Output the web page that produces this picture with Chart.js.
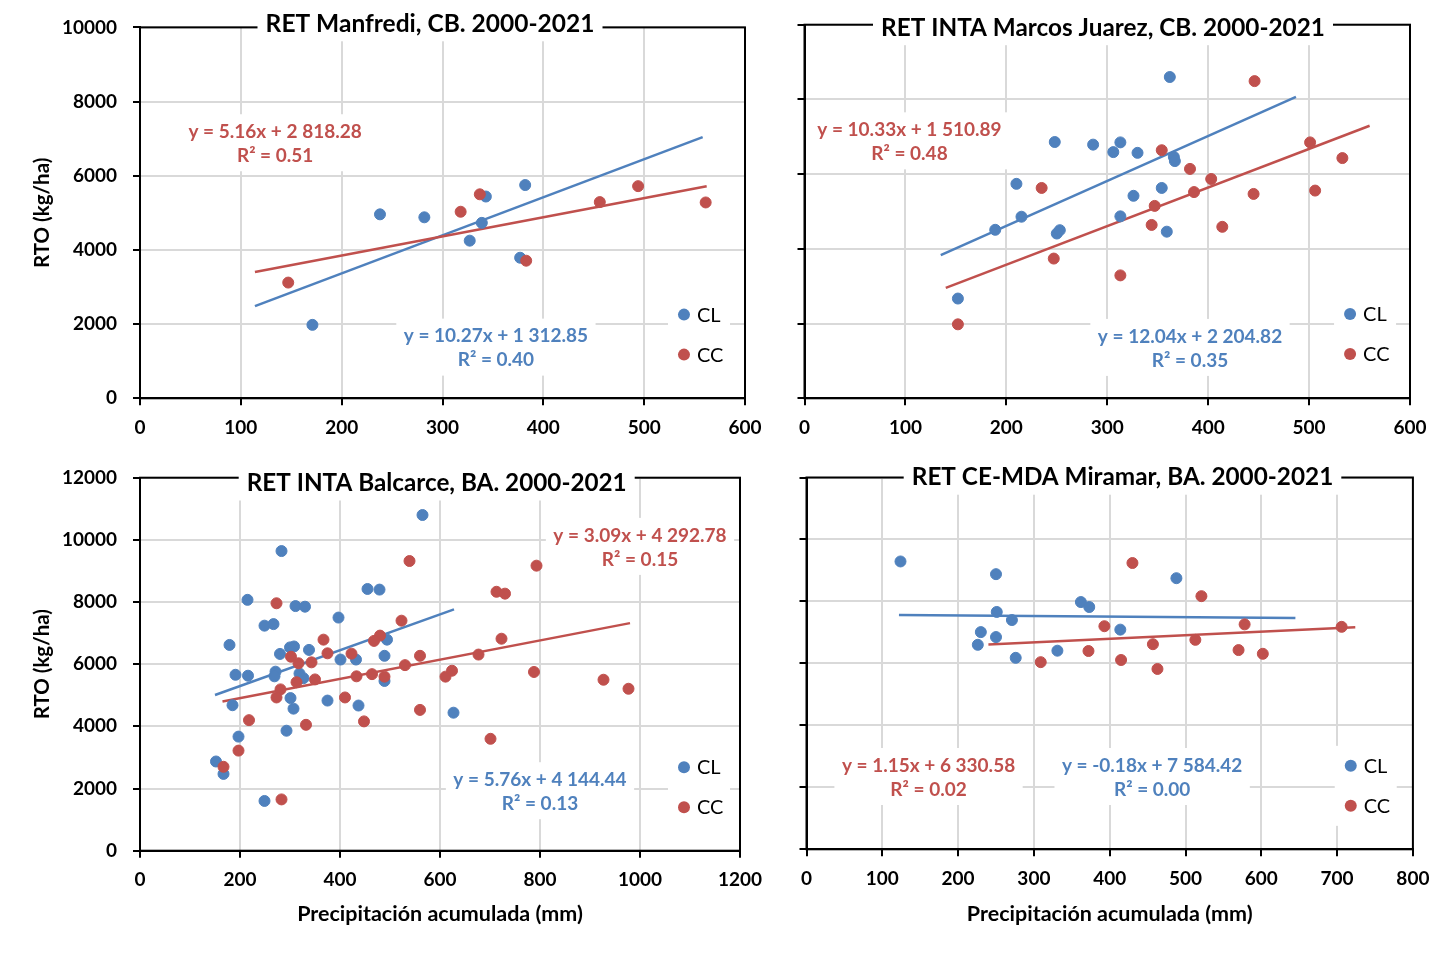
<!DOCTYPE html>
<html>
<head>
<meta charset="utf-8">
<script src="https://cdn.jsdelivr.net/npm/chart.js@4.4.1/dist/chart.umd.min.js"></script>
<style>
  html, body { margin: 0; padding: 0; background: #fff; }
  #wrap { position: relative; width: 1453px; height: 954px; }
  #wrap canvas { position: absolute; left: 0; top: 0; }
</style>
</head>
<body>
<div id="wrap">
  <canvas id="c0" width="1453" height="954"></canvas>
  <canvas id="c1" width="1453" height="954"></canvas>
  <canvas id="c2" width="1453" height="954"></canvas>
  <canvas id="c3" width="1453" height="954"></canvas>
</div>
<script>
// Series names and panel titles
const seriesNames = ['CL', 'CC'];
const panelTitles = [
  'RET Manfredi, CB. 2000-2021',
  'RET INTA Marcos Juarez, CB. 2000-2021',
  'RET INTA Balcarce, BA. 2000-2021',
  'RET CE-MDA Miramar, BA. 2000-2021'
];
const xAxisTitle = 'Precipitación acumulada (mm)';
const yAxisTitle = 'RTO (kg/ha)';

// Axis ranges
const xAxisMax = [600, 600, 1200, 800];
const xAxisStep = [100, 100, 200, 100];
const yAxisMax = [10000, 10000, 12000, 12000];
const yAxisStep = [2000, 2000, 2000, 2000];

// Manfredi
const manfrediClX = [171, 238, 282, 327, 339, 343, 377, 382];
const manfrediClY = [1980, 4960, 4880, 4250, 4730, 5440, 3790, 5750];
const manfrediCcX = [147, 318, 337, 383, 456, 494, 561];
const manfrediCcY = [3120, 5030, 5500, 3710, 5290, 5720, 5280];
const manfrediSlope = [10.27, 5.16];
const manfrediIntercept = [1312.85, 2818.28];
const manfrediR2 = [0.40, 0.51];
const manfrediRange = [[114, 558], [114, 562]];

// Marcos Juarez
const marcosClX = [152, 189, 210, 215, 248, 250, 253, 286, 306, 313, 313, 326, 330, 354, 359, 362, 366, 367];
const marcosClY = [2670, 4510, 5740, 4860, 6860, 4410, 4500, 6790, 6590, 6850, 4870, 5420, 6570, 5630, 4460, 8600, 6460, 6350];
const marcosCcX = [152, 235, 247, 313, 344, 347, 354, 382, 386, 403, 414, 445, 446, 501, 506, 533];
const marcosCcY = [1980, 5630, 3740, 3290, 4640, 5150, 6640, 6140, 5520, 5870, 4590, 5470, 8490, 6850, 5560, 6430];
const marcosSlope = [12.04, 10.33];
const marcosIntercept = [2204.82, 1510.89];
const marcosR2 = [0.35, 0.48];
const marcosRange = [[135, 487], [140, 560]];

// Balcarce
const balcarceClX = [565, 283, 215, 455, 479, 311, 330, 249, 267, 397, 179, 300, 308, 338, 280, 494, 489, 401, 432,
  191, 216, 271, 269, 319, 327, 489, 301, 185, 307, 375, 437, 293, 197, 152, 167, 249, 627];
const balcarceClY = [10800, 9640, 8070, 8420, 8400, 7870, 7850, 7240, 7290, 7500, 6620, 6540, 6570, 6460, 6330, 6790, 6270, 6150, 6150,
  5660, 5630, 5760, 5610, 5700, 5550, 5460, 4910, 4680, 4570, 4830, 4670, 3860, 3670, 2870, 2470, 1600, 4440];
const balcarceCcX = [273, 539, 523, 367, 375, 480, 468, 423, 560, 530, 302, 317, 343, 350, 433, 464, 489, 313, 281, 273,
  410, 560, 218, 332, 448, 197, 167, 283, 611, 624, 793, 713, 730, 723, 677, 788, 927, 977, 701];
const balcarceCcY = [7960, 9320, 7400, 6790, 6350, 6920, 6750, 6340, 6270, 5970, 6240, 6030, 6060, 5510, 5610, 5680, 5600, 5420, 5190, 4930,
  4930, 4530, 4200, 4050, 4160, 3220, 2700, 1650, 5600, 5790, 9170, 8330, 8270, 6820, 6310, 5750, 5500, 5210, 3600];
const balcarceSlope = [5.76, 3.09];
const balcarceIntercept = [4144.44, 4292.78];
const balcarceR2 = [0.13, 0.15];
const balcarceRange = [[150, 628], [165, 980]];

// Miramar
const miramarClX = [124, 250, 251, 271, 230, 250, 226, 276, 331, 362, 373, 414, 488];
const miramarClY = [9290, 8880, 7660, 7400, 7010, 6850, 6600, 6180, 6410, 7980, 7820, 7090, 8750];
const miramarCcX = [309, 372, 393, 430, 521, 578, 706, 457, 513, 415, 463, 570, 602];
const miramarCcY = [6040, 6400, 7200, 9240, 8170, 7260, 7180, 6620, 6760, 6110, 5820, 6430, 6310];
const miramarSlope = [-0.18, 1.15];
const miramarIntercept = [7584.42, 6330.58];
const miramarR2 = [0.00, 0.02];
const miramarRange = [[122, 645], [240, 724]];

// Layout (page pixels / value positions for annotations)
const W = 1453, H = 954;
const BLUE = '#4F81BD', RED = '#C0504D', GRID = '#D9D9D9', INK = '#000000';
const FONT = 'Lato, "Open Sans", sans-serif';

const layout = [
  { area: [140, 24.7, 745, 398.3], yLabels: true, xTitle: false, title: [430, 23.3, 329],
    eq: [[353, 1690], [134, 7200]], legend: [539.5, 2256] },
  { area: [804.5, 24.7, 1410, 398.3], yLabels: false, xTitle: false, title: [1103, 27.2, 444],
    eq: [[382, 1670], [104, 7200]], legend: [540.6, 2256] },
  { area: [140, 477.7, 740, 850.7], yLabels: true, xTitle: true, title: [436.7, 482.5, 380],
    eq: [[800, 2300], [1000, 10160]], legend: [1088, 2683] },
  { area: [806.5, 477.5, 1412.9, 849.3], yLabels: false, xTitle: true, title: [1122.5, 476.7, 421.6],
    eq: [[456, 2720], [161, 2720]], legend: [718, 2694] }
];

const panelData = [
  { cl: [manfrediClX, manfrediClY], cc: [manfrediCcX, manfrediCcY], slope: manfrediSlope, icpt: manfrediIntercept, r2: manfrediR2, range: manfrediRange },
  { cl: [marcosClX, marcosClY], cc: [marcosCcX, marcosCcY], slope: marcosSlope, icpt: marcosIntercept, r2: marcosR2, range: marcosRange },
  { cl: [balcarceClX, balcarceClY], cc: [balcarceCcX, balcarceCcY], slope: balcarceSlope, icpt: balcarceIntercept, r2: balcarceR2, range: balcarceRange },
  { cl: [miramarClX, miramarClY], cc: [miramarCcX, miramarCcY], slope: miramarSlope, icpt: miramarIntercept, r2: miramarR2, range: miramarRange }
];

function pts(xs, ys) {
  return xs.map((x, i) => ({ x: x, y: ys[i] }));
}

function trendPts(d, k) {
  const [a, b] = d.range[k];
  return [{ x: a, y: d.slope[k] * a + d.icpt[k] }, { x: b, y: d.slope[k] * b + d.icpt[k] }];
}

function spaced(n) {
  const [i, f] = n.toFixed(2).split('.');
  return i.replace(/\B(?=(\d{3})+(?!\d))/g, ' ') + '.' + f;
}

function eqLines(d, k) {
  return ['y = ' + d.slope[k].toFixed(2) + 'x + ' + spaced(d.icpt[k]), 'R² = ' + d.r2[k].toFixed(2)];
}

function capText(ctx, text, x, capY, size, weight, color, align) {
  ctx.font = weight + ' ' + size + 'px ' + FONT;
  ctx.fillStyle = color;
  ctx.textAlign = align;
  ctx.textBaseline = 'alphabetic';
  ctx.fillText(text, x, capY + 0.358 * size);
}

function makeDecor(i) {
  const lay = layout[i], d = panelData[i];
  return {
    id: 'decor' + i,
    beforeDatasetsDraw(chart) {
      const { ctx, chartArea: a } = chart;
      ctx.save();
      ctx.strokeStyle = INK;
      ctx.lineWidth = 2;
      ctx.strokeRect(a.left, a.top, a.right - a.left, a.bottom - a.top);
      ctx.restore();
    },
    afterDraw(chart) {
      const { ctx } = chart;
      const xs = chart.scales.x, ys = chart.scales.y;
      ctx.save();

      // equations (CL, CC)
      [BLUE, RED].forEach((color, k) => {
        const lines = eqLines(d, k);
        const px = xs.getPixelForValue(lay.eq[k][0]);
        const py = ys.getPixelForValue(lay.eq[k][1]);
        ctx.font = 'bold 19px ' + FONT;
        const w = Math.max(...lines.map(t => ctx.measureText(t).width));
        ctx.fillStyle = '#fff';
        ctx.fillRect(px - w / 2 - 7.5, py - 17, w + 15, 57);
        lines.forEach((t, j) => capText(ctx, t, px, py + j * 24, 19, 'bold', color, 'center'));
      });

      // legend
      const lx = xs.getPixelForValue(lay.legend[0]);
      const ly = ys.getPixelForValue(lay.legend[1]);
      ctx.fillStyle = '#fff';
      ctx.fillRect(lx - 16, ly - 20, 62, 80);
      [BLUE, RED].forEach((color, k) => {
        ctx.beginPath();
        ctx.arc(lx, ly + k * 40, 6, 0, Math.PI * 2);
        ctx.fillStyle = color;
        ctx.fill();
        capText(ctx, seriesNames[k], lx + 13, ly + k * 40, 20, 'normal', INK, 'left');
      });

      // title over the top border
      const [tx, ty, tw] = lay.title;
      ctx.font = 'bold 100px ' + FONT;
      const size = 100 * tw / ctx.measureText(panelTitles[i]).width;
      ctx.fillStyle = '#fff';
      ctx.fillRect(tx - tw / 2 - 8, ty - 22, tw + 16, 40);
      capText(ctx, panelTitles[i], tx, ty, size, 'bold', INK, 'center');

      ctx.restore();
    }
  };
}

function makeChart(i) {
  const lay = layout[i], d = panelData[i];
  const [L, T, R, B] = lay.area;
  const tickFont = { family: FONT, size: 19, weight: 'bold' };
  const gridOpts = { color: GRID, lineWidth: 2, tickColor: INK, tickLength: 7, tickWidth: 2 };

  new Chart(document.getElementById('c' + i), {
    type: 'scatter',
    data: {
      datasets: [
        { label: seriesNames[1], data: pts(d.cc[0], d.cc[1]), backgroundColor: RED, borderColor: RED,
          borderWidth: 1, pointRadius: 5.5, order: 0 },
        { label: seriesNames[0], data: pts(d.cl[0], d.cl[1]), backgroundColor: BLUE, borderColor: BLUE,
          borderWidth: 1, pointRadius: 5.5, order: 1 },
        { label: 'trend CC', data: trendPts(d, 1), showLine: true, borderColor: RED, borderWidth: 2.5,
          pointRadius: 0, fill: false, order: 2 },
        { label: 'trend CL', data: trendPts(d, 0), showLine: true, borderColor: BLUE, borderWidth: 2.5,
          pointRadius: 0, fill: false, order: 3 }
      ]
    },
    options: {
      responsive: false,
      animation: false,
      devicePixelRatio: 1,
      events: [],
      layout: { padding: { left: 0, top: T, right: W - R, bottom: 0 } },
      plugins: { legend: { display: false }, tooltip: { enabled: false } },
      scales: {
        x: {
          type: 'linear', position: 'bottom', min: 0, max: xAxisMax[i],
          afterFit: s => { s.height = H - B; },
          ticks: { stepSize: xAxisStep[i], autoSkip: false, maxRotation: 0, color: INK, padding: 11,
            font: tickFont, callback: v => String(v) },
          grid: gridOpts,
          border: { color: INK, width: 2 },
          title: { display: lay.xTitle, text: xAxisTitle, color: INK,
            font: { family: FONT, size: 21.5, weight: 'bold', lineHeight: 1.2 },
            padding: { top: 0, bottom: 27 } }
        },
        y: {
          type: 'linear', position: 'left', min: 0, max: yAxisMax[i],
          afterFit: s => { s.width = L; },
          ticks: { display: lay.yLabels, stepSize: yAxisStep[i], autoSkip: false, color: INK, padding: 16,
            font: tickFont, callback: v => String(v) },
          grid: gridOpts,
          border: { color: INK, width: 2 },
          title: { display: lay.yLabels, text: yAxisTitle, color: INK,
            font: { family: FONT, size: 20.5, weight: 'bold', lineHeight: 1.2 },
            padding: { top: 30, bottom: 0 } }
        }
      }
    },
    plugins: [makeDecor(i)]
  });
}

[0, 1, 2, 3].forEach(makeChart);
</script>
</body>
</html>
